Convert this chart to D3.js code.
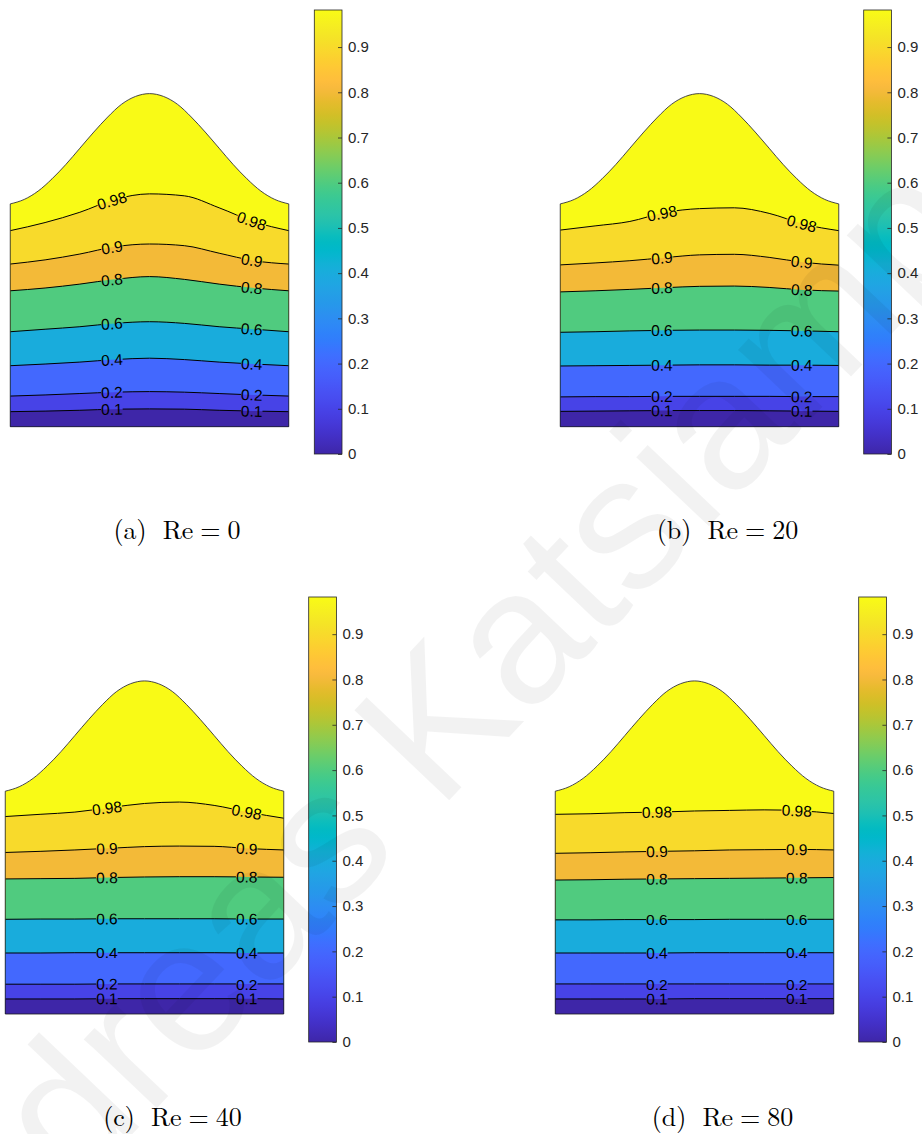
<!DOCTYPE html>
<html>
<head>
<meta charset="utf-8">
<script src="https://cdn.jsdelivr.net/npm/d3@7"></script>
<style>
  body{margin:0;background:#fff;}
  svg{display:block;}
</style>
</head>
<body>
<script>
const W=922, H=1134;

// ---- data ----
const TAGS=["a","b","c","d"];
const RE=[0,20,40,80];
const LEVELS=[0.1,0.2,0.4,0.6,0.8,0.9,0.98];
const CMAX=0.982;
const CBAR_TICKS=[0,0.1,0.2,0.3,0.4,0.5,0.6,0.7,0.8,0.9];
const LABEL_X=[-0.135,0.367];

// stations across the channel (channel width = 1)
const XS=[-0.5,-0.375,-0.25,-0.125,0,0.125,0.25,0.375,0.5];

// upper wall with the bump
const WALL_X=[-0.5,-0.45,-0.4,-0.35,-0.3,-0.25,-0.2,-0.15,-0.1,-0.05,0,0.05,0.1,0.15,0.2,0.25,0.3,0.35,0.4,0.45,0.5];
const WALL_Y=[0.800,0.816,0.846,0.890,0.942,1.000,1.058,1.112,1.158,1.186,1.196,1.186,1.158,1.112,1.058,1.000,0.942,0.890,0.846,0.816,0.800];

// height of each iso-line at XS, one row per entry of LEVELS
const ISO_RE0=[
  [0.054,0.056,0.059,0.063,0.064,0.063,0.059,0.056,0.054],
  [0.110,0.114,0.119,0.124,0.126,0.124,0.119,0.114,0.110],
  [0.219,0.225,0.232,0.241,0.246,0.241,0.232,0.225,0.219],
  [0.341,0.350,0.359,0.371,0.377,0.371,0.359,0.350,0.341],
  [0.488,0.498,0.512,0.529,0.539,0.529,0.512,0.498,0.488],
  [0.584,0.599,0.620,0.646,0.656,0.650,0.623,0.596,0.584],
  [0.704,0.733,0.770,0.816,0.836,0.829,0.786,0.736,0.704]
];
const ISO_RE20=[
  [0.055,0.056,0.057,0.058,0.058,0.058,0.057,0.056,0.055],
  [0.107,0.108,0.108,0.109,0.109,0.109,0.109,0.108,0.108],
  [0.218,0.219,0.220,0.221,0.222,0.222,0.221,0.221,0.220],
  [0.339,0.341,0.344,0.346,0.347,0.347,0.346,0.344,0.341],
  [0.484,0.488,0.493,0.499,0.504,0.505,0.500,0.491,0.487],
  [0.581,0.588,0.596,0.607,0.617,0.619,0.608,0.590,0.580],
  [0.706,0.721,0.737,0.769,0.783,0.786,0.766,0.727,0.704]
];
const ISO_RE40=[
  [0.054,0.054,0.054,0.055,0.055,0.055,0.055,0.055,0.054],
  [0.107,0.107,0.107,0.108,0.108,0.108,0.108,0.108,0.108],
  [0.219,0.219,0.220,0.220,0.220,0.220,0.220,0.219,0.219],
  [0.340,0.341,0.341,0.342,0.342,0.342,0.342,0.341,0.341],
  [0.485,0.486,0.487,0.490,0.492,0.493,0.493,0.492,0.491],
  [0.580,0.584,0.589,0.595,0.601,0.603,0.602,0.594,0.589],
  [0.709,0.717,0.725,0.741,0.756,0.761,0.749,0.724,0.703]
];
const ISO_RE80=[
  [0.054,0.054,0.054,0.054,0.055,0.055,0.055,0.055,0.055],
  [0.108,0.108,0.108,0.108,0.108,0.108,0.108,0.108,0.108],
  [0.219,0.219,0.219,0.219,0.220,0.220,0.220,0.220,0.220],
  [0.338,0.338,0.339,0.339,0.339,0.340,0.340,0.340,0.340],
  [0.481,0.482,0.484,0.485,0.486,0.487,0.488,0.489,0.490],
  [0.577,0.579,0.582,0.584,0.586,0.589,0.590,0.591,0.589],
  [0.717,0.719,0.723,0.725,0.729,0.731,0.733,0.730,0.720]
];
const ISO=[ISO_RE0,ISO_RE20,ISO_RE40,ISO_RE80];

// parula colormap
const PARULA=[
[0.2422,0.1504,0.6603],[0.2504,0.1650,0.7076],[0.2578,0.1818,0.7511],[0.2647,0.1978,0.7952],
[0.2706,0.2147,0.8364],[0.2751,0.2342,0.8710],[0.2783,0.2559,0.8991],[0.2803,0.2782,0.9221],
[0.2813,0.3006,0.9414],[0.2810,0.3228,0.9579],[0.2795,0.3447,0.9717],[0.2760,0.3667,0.9829],
[0.2699,0.3892,0.9906],[0.2602,0.4123,0.9952],[0.2440,0.4358,0.9988],[0.2206,0.4603,0.9973],
[0.1963,0.4847,0.9892],[0.1834,0.5074,0.9798],[0.1786,0.5289,0.9682],[0.1764,0.5499,0.9520],
[0.1687,0.5703,0.9359],[0.1540,0.5902,0.9218],[0.1460,0.6091,0.9079],[0.1380,0.6276,0.8973],
[0.1248,0.6459,0.8883],[0.1113,0.6635,0.8763],[0.0952,0.6798,0.8598],[0.0689,0.6948,0.8394],
[0.0297,0.7082,0.8163],[0.0036,0.7203,0.7917],[0.0067,0.7312,0.7660],[0.0433,0.7411,0.7394],
[0.0964,0.7500,0.7120],[0.1408,0.7584,0.6842],[0.1717,0.7670,0.6554],[0.1938,0.7758,0.6251],
[0.2161,0.7843,0.5923],[0.2470,0.7918,0.5567],[0.2906,0.7973,0.5188],[0.3406,0.8008,0.4789],
[0.3909,0.8029,0.4354],[0.4456,0.8024,0.3909],[0.5044,0.7993,0.3480],[0.5616,0.7942,0.3045],
[0.6174,0.7876,0.2612],[0.6720,0.7793,0.2227],[0.7242,0.7698,0.1910],[0.7738,0.7598,0.1646],
[0.8203,0.7498,0.1535],[0.8634,0.7406,0.1596],[0.9035,0.7330,0.1774],[0.9393,0.7288,0.2100],
[0.9728,0.7298,0.2394],[0.9956,0.7434,0.2371],[0.9970,0.7659,0.2199],[0.9952,0.7893,0.2028],
[0.9892,0.8136,0.1885],[0.9786,0.8386,0.1766],[0.9676,0.8639,0.1643],[0.9610,0.8890,0.1537],
[0.9597,0.9135,0.1423],[0.9628,0.9373,0.1265],[0.9691,0.9606,0.1064],[0.9769,0.9839,0.0805]
].map(c=>d3.rgb(c[0]*255,c[1]*255,c[2]*255).formatHex());

// ---- layout ----
const UNIT=278.5;                       // px per channel width
const PANEL_LEFT=[10.25,560.25,5.25,555.25];
const PANEL_BOTTOM=[426.7,426.7,1014,1014];
const CBAR_LEFT=[314.3,863.7,308.7,858.7];
const CBAR_TOP=[10,10,597,597];
const CBAR_BOTTOM=[454,454,1042,1042];
const CBAR_W=27.7;
const CAP_X=[177,727.5,172.5,722.5];
const CAP_Y=[538.5,538.5,1125.5,1125.5];
const SANS="'Liberation Sans',Arial,Helvetica,sans-serif";

const parula=d3.piecewise(d3.interpolateRgb,PARULA);
const cScale=d3.scaleLinear().domain([0,CMAX]).range([0,1]).clamp(true);
const colorOf=v=>parula(cScale(v));

const svg=d3.select("body").append("svg").attr("width",W).attr("height",H);
const defs=svg.append("defs");

const grad=defs.append("linearGradient").attr("id","parula-grad")
  .attr("x1",0).attr("y1",1).attr("x2",0).attr("y2",0);
PARULA.forEach((c,i)=>grad.append("stop").attr("offset",i/(PARULA.length-1)).attr("stop-color",c));

TAGS.forEach((tag,p)=>{
  const x=d3.scaleLinear().domain([-0.5,0.5]).range([PANEL_LEFT[p],PANEL_LEFT[p]+UNIT]);
  const y=d3.scaleLinear().domain([0,1]).range([PANEL_BOTTOM[p],PANEL_BOTTOM[p]-UNIT]);
  const line=d3.line().x(d=>x(d[0])).y(d=>y(d[1])).curve(d3.curveMonotoneX);

  const wall=line(WALL_X.map((v,i)=>[v,WALL_Y[i]]));
  const domainPath=`M${x(-0.5)},${y(0)}`+wall.replace(/^M/,"L")+`L${x(0.5)},${y(0)}Z`;

  defs.append("clipPath").attr("id",`clip-${tag}`).append("path").attr("d",domainPath);

  const g=svg.append("g");
  const fills=g.append("g").attr("clip-path",`url(#clip-${tag})`);

  // region above the top level
  fills.append("path").attr("d",domainPath).attr("fill",colorOf(LEVELS[LEVELS.length-1]));
  // regions below each level, from the top one down
  for(let k=LEVELS.length-1;k>=0;k--){
    const iso=line(XS.map((v,i)=>[v,ISO[p][k][i]]));
    fills.append("path")
      .attr("d",iso+`L${x(0.5)+2},${y(0)+2}L${x(-0.5)-2},${y(0)+2}Z`)
      .attr("fill",colorOf(k>0?LEVELS[k-1]:0));
  }

  // labels (measured first, so the lines can break round them)
  const labels=g.append("g");
  const mask=defs.append("mask").attr("id",`gap-${tag}`).attr("maskUnits","userSpaceOnUse")
    .attr("x",0).attr("y",0).attr("width",W).attr("height",H);
  mask.append("rect").attr("width",W).attr("height",H).attr("fill","#fff");

  LEVELS.forEach((lev,k)=>{
    const at=d3.scaleLinear().domain(XS).range(ISO[p][k]);
    LABEL_X.forEach(lx=>{
      const px=x(lx), py=y(at(lx));
      const ang=Math.atan2(y(at(lx+0.03))-y(at(lx-0.03)),x(lx+0.03)-x(lx-0.03))*180/Math.PI;
      const t=labels.append("text")
        .attr("transform",`translate(${px},${py}) rotate(${ang})`)
        .attr("text-anchor","middle")
        .attr("dy","0.36em")
        .style("font-family",SANS)
        .style("font-size","15.5px")
        .attr("fill","#000")
        .text(String(lev));
      const wdt=t.node().getComputedTextLength();
      mask.append("rect")
        .attr("transform",`translate(${px},${py}) rotate(${ang})`)
        .attr("x",-wdt/2).attr("y",-6).attr("width",wdt).attr("height",12)
        .attr("fill","#000");
    });
  });

  const lines=g.insert("g",()=>labels.node()).attr("mask",`url(#gap-${tag})`)
    .attr("clip-path",`url(#clip-${tag})`);
  LEVELS.forEach((lev,k)=>{
    lines.append("path").attr("d",line(XS.map((v,i)=>[v,ISO[p][k][i]])))
      .attr("fill","none").attr("stroke","#000").attr("stroke-width",1);
  });

  g.insert("path",()=>labels.node()).attr("d",domainPath)
    .attr("fill","none").attr("stroke","#1a1a1a").attr("stroke-width",0.8);

  // colorbar
  const cy=d3.scaleLinear().domain([0,CMAX]).range([CBAR_BOTTOM[p],CBAR_TOP[p]]);
  const cb=svg.append("g");
  cb.append("rect")
    .attr("x",CBAR_LEFT[p]).attr("y",CBAR_TOP[p])
    .attr("width",CBAR_W).attr("height",CBAR_BOTTOM[p]-CBAR_TOP[p])
    .attr("fill","url(#parula-grad)");
  const ax=cb.append("g").attr("transform",`translate(${CBAR_LEFT[p]+CBAR_W},0)`)
    .call(d3.axisRight(cy).tickValues(CBAR_TICKS).tickSize(-4).tickPadding(6)
      .tickFormat(d=>d===0?"0":d3.format(".1f")(d)));
  ax.select(".domain").remove();
  ax.selectAll(".tick line").attr("stroke","#262626").attr("stroke-width",0.8);
  ax.selectAll(".tick text")
    .style("font-family",SANS)
    .style("font-size","15px").attr("fill","#262626");
  cb.append("rect")
    .attr("x",CBAR_LEFT[p]).attr("y",CBAR_TOP[p])
    .attr("width",CBAR_W).attr("height",CBAR_BOTTOM[p]-CBAR_TOP[p])
    .attr("fill","none").attr("stroke","#262626").attr("stroke-width",0.8);

  // caption
  const cap=svg.append("text")
    .attr("x",CAP_X[p]).attr("y",CAP_Y[p]).attr("text-anchor","middle")
    .style("font-family","'Latin Modern Roman','CMU Serif','Liberation Serif','Times New Roman',serif")
    .style("font-size","26px").attr("fill","#000");
  cap.append("tspan").text(`(${tag})`);
  cap.append("tspan").attr("dx",16).text("Re");
  cap.append("tspan").attr("dx",7).text("=");
  cap.append("tspan").attr("dx",7).text(String(RE[p]));
});

// watermark
svg.append("text")
  .attr("transform","translate(-85,1363) rotate(-46.5)")
  .style("font-family",SANS)
  .style("font-size","190px")
  .attr("fill","#000").attr("fill-opacity",0.05)
  .text("Andreas Katsiampas");
</script>
</body>
</html>
